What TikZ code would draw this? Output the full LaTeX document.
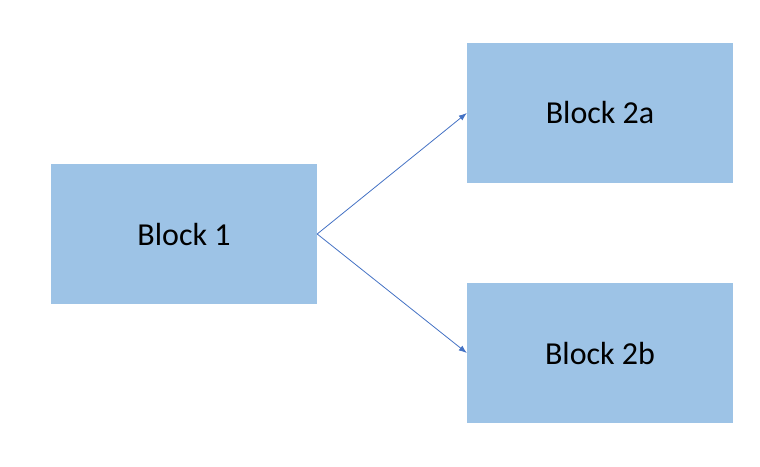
\documentclass[tikz,border=0pt]{standalone}
\usepackage{fontspec}
\setmainfont{Carlito}
\usetikzlibrary{arrows.meta}
\definecolor{blk}{HTML}{9DC3E6}
\definecolor{arr}{HTML}{4472C4}
\begin{document}
\begin{tikzpicture}[x=1pt,y=-1pt,
  block/.style={fill=blk,draw=none,minimum width=266pt,minimum height=140pt,inner sep=0pt,font=\fontsize{32}{38}\selectfont},
  conn/.style={draw=arr,line width=0.8pt,-{Latex[length=8pt,width=6pt]}}]
\useasboundingbox (0,0) rectangle (760,466);
\node[block] (b1) at (184,234) {Block 1};
\node[block] (b2a) at (600,113) {Block 2a};
\node[block] (b2b) at (600,353) {Block 2b};
\draw[conn] (b1.east) -- (b2a.west);
\draw[conn] (b1.east) -- (b2b.west);
\end{tikzpicture}
\end{document}
